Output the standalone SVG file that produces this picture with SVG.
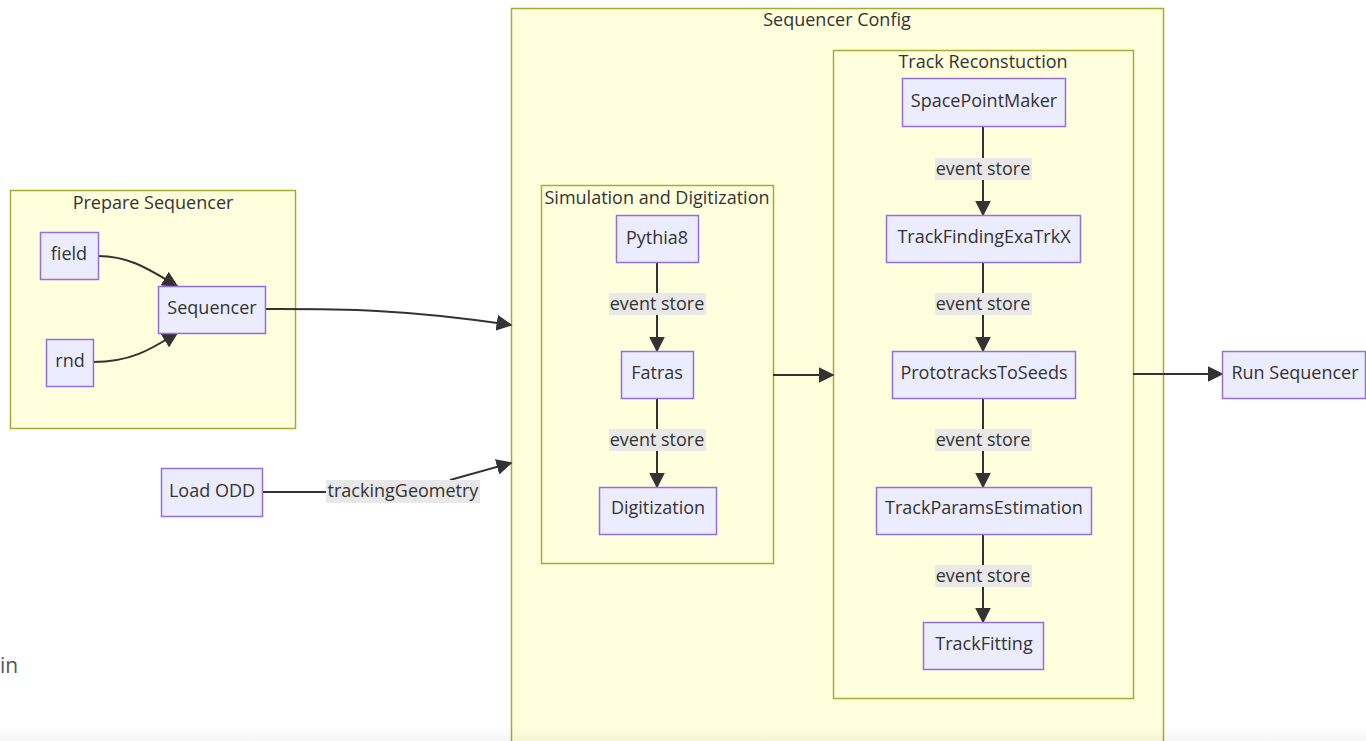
<svg xmlns="http://www.w3.org/2000/svg" width="1366" height="741" viewBox="0 0 1366 741">
  <defs>
    <marker id="arrowL" viewBox="0 0 10 10" refX="9" refY="5" markerWidth="16" markerHeight="16" markerUnits="userSpaceOnUse" orient="auto">
      <path d="M0,0 L10,5 L0,10 z" fill="#333333"/>
    </marker>
    <linearGradient id="fade" x1="0" y1="0" x2="0" y2="1">
      <stop offset="0" stop-color="#000" stop-opacity="0"/>
      <stop offset="1" stop-color="#000" stop-opacity="0.04"/>
    </linearGradient>
  </defs>
  <style>
    text { font-family: "Open Sans", "DejaVu Sans", sans-serif; font-size: 18px; fill: #333333; text-anchor: middle; dominant-baseline: central; }
    .cluster { fill: #ffffde; stroke: #aaaa33; stroke-width: 1.5; }
    .node rect { fill: #ececff; stroke: #9370db; stroke-width: 1.5; }
    .edge { fill: none; stroke: #333333; stroke-width: 2; marker-end: url(#arrowL); }
    .plain { fill: none; stroke: #333333; stroke-width: 2; }
    .lbl { fill: #e8e8e8; }
  </style>
  <rect width="1366" height="741" fill="#ffffff"/>

  <!-- page text to the left -->
  <text x="0" y="665" style="text-anchor:start; font-size:21px; fill:#555555">in</text>

  <!-- clusters -->
  <g id="prepare-sequencer">
    <rect class="cluster" x="10.5" y="190.5" width="285" height="238"/>
    <text x="153" y="202">Prepare Sequencer</text>
  </g>
  <g id="sequencer-config">
    <rect class="cluster" x="511.5" y="8.5" width="652" height="740"/>
    <text x="837" y="19">Sequencer Config</text>
  </g>
  <g id="simulation-digitization">
    <rect class="cluster" x="541.5" y="185.5" width="232" height="378"/>
    <text x="657" y="197">Simulation and Digitization</text>
  </g>
  <g id="track-reconstruction">
    <rect class="cluster" x="833.5" y="50.5" width="300" height="648"/>
    <text x="983" y="61">Track Reconstuction</text>
  </g>

  <!-- connectors -->
  <g id="connectors">
    <path class="edge" d="M98,256 C130,256 150,270 177,286"/>
    <path class="edge" d="M93,362 C130,362 150,350 177,333"/>
    <path class="edge" d="M265,309 C330,309 400,308 511,325"/>
    <path class="plain" d="M262,492 L330,492"/>
    <path class="edge" d="M450,480 L511,463"/>
    <path class="edge" d="M773,375 L833,375"/>
    <path class="edge" d="M1133,374 L1222,374"/>

    <path class="edge" d="M657,262 L657,351"/>
    <path class="edge" d="M657,398 L657,487"/>
    <path class="edge" d="M983,126 L983,215"/>
    <path class="edge" d="M983,262 L983,351"/>
    <path class="edge" d="M983,398 L983,487"/>
    <path class="edge" d="M983,534 L983,622"/>

    <!-- edge labels -->
    <rect class="lbl" x="326" y="480" width="154" height="23"/>
    <text x="403" y="490">trackingGeometry</text>
    <rect class="lbl" x="609" y="293" width="97" height="22"/>
    <text x="657" y="303">event store</text>
    <rect class="lbl" x="609" y="429" width="97" height="22"/>
    <text x="657" y="439">event store</text>
    <rect class="lbl" x="935" y="158" width="97" height="22"/>
    <text x="983" y="168">event store</text>
    <rect class="lbl" x="935" y="293" width="97" height="22"/>
    <text x="983" y="303">event store</text>
    <rect class="lbl" x="935" y="429" width="97" height="22"/>
    <text x="983" y="439">event store</text>
    <rect class="lbl" x="935" y="565" width="97" height="22"/>
    <text x="983" y="575">event store</text>
  </g>

  <!-- nodes -->
  <g id="field" class="node"><rect x="40.5" y="232.5" width="58" height="47"/><text x="69" y="253">field</text></g>
  <g id="rnd" class="node"><rect x="46.5" y="339.5" width="47" height="47"/><text x="70" y="360">rnd</text></g>
  <g id="sequencer" class="node"><rect x="158.5" y="286.5" width="107" height="47"/><text x="212" y="307">Sequencer</text></g>
  <g id="load-odd" class="node"><rect x="161.5" y="468.5" width="101" height="48"/><text x="212" y="490">Load ODD</text></g>
  <g id="pythia8" class="node"><rect x="616.5" y="215.5" width="82" height="47"/><text x="657" y="237">Pythia8</text></g>
  <g id="fatras" class="node"><rect x="621.5" y="351.5" width="72" height="47"/><text x="657" y="372">Fatras</text></g>
  <g id="digitization" class="node"><rect x="599.5" y="487.5" width="117" height="47"/><text x="658" y="507">Digitization</text></g>
  <g id="spacepointmaker" class="node"><rect x="902.5" y="78.5" width="163" height="48"/><text x="984" y="100">SpacePointMaker</text></g>
  <g id="trackfinding" class="node"><rect x="886.5" y="215.5" width="194" height="47"/><text x="984" y="236">TrackFindingExaTrkX</text></g>
  <g id="prototracks" class="node"><rect x="892.5" y="351.5" width="183" height="47"/><text x="984" y="372">PrototracksToSeeds</text></g>
  <g id="trackparams" class="node"><rect x="876.5" y="487.5" width="215" height="47"/><text x="984" y="507">TrackParamsEstimation</text></g>
  <g id="trackfitting" class="node"><rect x="923.5" y="622.5" width="120" height="47"/><text x="984" y="643">TrackFitting</text></g>
  <g id="run-sequencer" class="node"><rect x="1222.5" y="351.5" width="143" height="47"/><text x="1295" y="372">Run Sequencer</text></g>

  <!-- soft shade along the bottom edge -->
  <rect x="0" y="726" width="1366" height="15" fill="url(#fade)"/>
</svg>
